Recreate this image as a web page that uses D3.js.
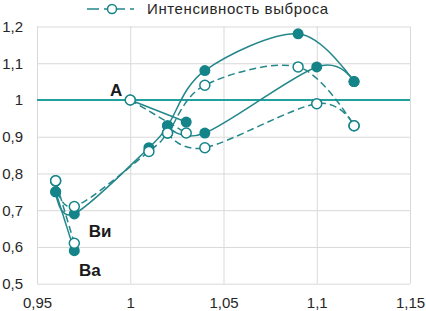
<!DOCTYPE html>
<html>
<head>
<meta charset="utf-8">
<script src="https://cdn.jsdelivr.net/npm/d3@7"></script>
<style>
  body { margin: 0; background: #fff; }
  text { font-family: "Liberation Sans", Arial, sans-serif; }
</style>
</head>
<body>
<script>
// axis ticks
const xTicks = [0.95, 1, 1.05, 1.1, 1.15];
const yTicks = [0.5, 0.6, 0.7, 0.8, 0.9, 1, 1.1, 1.2];

// filled markers, solid lines
const solidBaX = [0.97, 0.96];
const solidBaY = [0.59, 0.75];
const solidUpX = [0.96, 0.97, 1.01, 1.02, 1.04, 1.09, 1.12];
const solidUpY = [0.75, 0.69, 0.87, 0.93, 1.08, 1.18, 1.05];
const solidAX = [1.0, 1.03];
const solidAY = [1.0, 0.94];
const solidLowX = [1.02, 1.04, 1.10, 1.12];
const solidLowY = [0.93, 0.91, 1.09, 1.05];

// open markers, dashed lines ("Интенсивность выброса")
const dashBaX = [0.97, 0.96];
const dashBaY = [0.61, 0.78];
const dashUpX = [0.96, 0.97, 1.01, 1.02, 1.04, 1.09, 1.12];
const dashUpY = [0.78, 0.71, 0.86, 0.91, 1.04, 1.09, 0.93];
const dashAX = [1.0, 1.03];
const dashAY = [1.0, 0.91];
const dashLowX = [1.02, 1.04, 1.10, 1.12];
const dashLowY = [0.91, 0.87, 0.99, 0.93];

const legendLabel = "Интенсивность выброса";
const pointLabels = [
  { text: "А", x: 0.9924, y: 1.011 },
  { text: "Ви", x: 0.9838, y: 0.627 },
  { text: "Ва", x: 0.9784, y: 0.521 }
];

const W = 426, H = 311;
const lineColor = "#23878b";
const markColor = "#148489";
const refColor = "#22a09e";

const x = d3.scaleLinear().domain([0.95, 1.15]).range([37, 410]);
const y = d3.scaleLinear().domain([0.5, 1.2]).range([283.7, 26.5]);
const fmt = (d) => String(d).replace(".", ",");
const zip = (xs, ys) => xs.map((v, i) => [v, ys[i]]);

const svg = d3.select("body").append("svg")
  .attr("width", W).attr("height", H);

// grid + axes
svg.append("g")
  .attr("transform", "translate(0," + y(0.5) + ")")
  .call(d3.axisBottom(x).tickValues(xTicks).tickFormat(fmt)
    .tickSizeInner(-(y(0.5) - y(1.2))).tickSizeOuter(0).tickPadding(14))
  .call((g) => g.select(".domain").remove())
  .call((g) => g.selectAll("line").attr("stroke", "#d9d9d9"))
  .call((g) => g.selectAll("text").attr("font-size", 15).attr("fill", "#262626")
    .attr("font-family", "'Liberation Sans', Arial, sans-serif"));

svg.append("g")
  .attr("transform", "translate(" + x(0.95) + ",0)")
  .call(d3.axisLeft(y).tickValues(yTicks).tickFormat(fmt)
    .tickSizeInner(-(x(1.15) - x(0.95))).tickSizeOuter(0).tickPadding(14))
  .call((g) => g.select(".domain").remove())
  .call((g) => g.selectAll("line").attr("stroke", "#d9d9d9"))
  .call((g) => g.selectAll("text").attr("font-size", 15).attr("fill", "#262626")
    .attr("font-family", "'Liberation Sans', Arial, sans-serif"));

// reference line at 1
svg.append("line")
  .attr("x1", x(0.95)).attr("x2", x(1.15))
  .attr("y1", y(1)).attr("y2", y(1))
  .attr("stroke", refColor).attr("stroke-width", 2);

const line = d3.line()
  .x((d) => x(d[0])).y((d) => y(d[1]))
  .curve(d3.curveCardinal.tension(0));

const solidSeries = [zip(solidBaX, solidBaY), zip(solidUpX, solidUpY),
  zip(solidAX, solidAY), zip(solidLowX, solidLowY)];
const dashSeries = [zip(dashBaX, dashBaY), zip(dashUpX, dashUpY),
  zip(dashAX, dashAY), zip(dashLowX, dashLowY)];

solidSeries.forEach((s) => {
  svg.append("path").attr("d", line(s))
    .attr("fill", "none").attr("stroke", lineColor).attr("stroke-width", 1.5);
});
dashSeries.forEach((s) => {
  svg.append("path").attr("d", line(s))
    .attr("fill", "none").attr("stroke", lineColor).attr("stroke-width", 1.5)
    .attr("stroke-dasharray", "7,4");
});

solidSeries.forEach((s) => {
  svg.append("g").selectAll("circle").data(s).join("circle")
    .attr("cx", (d) => x(d[0])).attr("cy", (d) => y(d[1])).attr("r", 5.5)
    .attr("fill", markColor);
});
dashSeries.forEach((s) => {
  svg.append("g").selectAll("circle").data(s).join("circle")
    .attr("cx", (d) => x(d[0])).attr("cy", (d) => y(d[1])).attr("r", 5)
    .attr("fill", "#fff").attr("stroke", markColor).attr("stroke-width", 1.5);
});

// point labels
svg.selectAll(".plabel").data(pointLabels).join("text")
  .attr("class", "plabel")
  .attr("x", (d) => x(d.x)).attr("y", (d) => y(d.y))
  .attr("text-anchor", "middle")
  .attr("font-size", 17).attr("font-weight", "bold").attr("fill", "#1a1a1a")
  .text((d) => d.text);

// legend
const lg = svg.append("g");
lg.append("line").attr("x1", 87).attr("x2", 138).attr("y1", 9).attr("y2", 9)
  .attr("stroke", lineColor).attr("stroke-width", 1.5).attr("stroke-dasharray", "12,5,4,5");
lg.append("circle").attr("cx", 112).attr("cy", 9).attr("r", 4.5)
  .attr("fill", "#fff").attr("stroke", markColor).attr("stroke-width", 1.5);
lg.append("text").attr("x", 147).attr("y", 14)
  .attr("font-size", 15).attr("fill", "#262626").attr("letter-spacing", 0.6)
  .text(legendLabel);
</script>
</body>
</html>
